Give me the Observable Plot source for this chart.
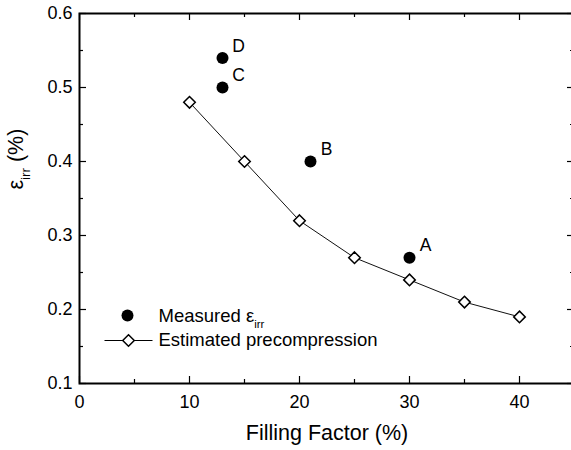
<!DOCTYPE html>
<html>
<head>
<meta charset="utf-8">
<script src="https://cdn.jsdelivr.net/npm/d3@7"></script>
<script src="https://cdn.jsdelivr.net/npm/@observablehq/plot@0.6"></script>
<style>
  html, body { margin: 0; padding: 0; background: white; overflow: hidden; }
  #chart { width: 571px; height: 450px; overflow: hidden; }
</style>
</head>
<body>
<div id="chart"></div>
<script>
// ---- data ----
const measLabel = ["A", "B", "C", "D"];
const measX = [30, 21, 13, 13];
const measY = [0.27, 0.40, 0.50, 0.54];

const estX = [10, 15, 20, 25, 30, 35, 40];
const estY = [0.48, 0.40, 0.32, 0.27, 0.24, 0.21, 0.19];

const xMajor = [0, 10, 20, 30, 40];
const xMinor = [5, 15, 25, 35];
const yMajor = [0.1, 0.2, 0.3, 0.4, 0.5, 0.6];
const yMinor = [0.15, 0.25, 0.35, 0.45, 0.55];

const xTitle = "Filling Factor (%)";
const yTitle = "ε_{irr} (%)";
const legendMeasured = "Measured ε_{irr}";
const legendEstimated = "Estimated precompression";

// ---- build ----
const measured = measLabel.map((l, i) => ({label: l, x: measX[i], y: measY[i]}));
const estimated = estX.map((x, i) => ({x, y: estY[i]}));

const W = 571, H = 450;
const mL = 79, mT = 13, mB = 67, mR = -3;
const fw = W - mL - mR, fh = H - mT - mB;
const tMaj = 7, tMin = 4;
const font = "'Liberation Sans', Arial, sans-serif";

const hline = {draw(ctx) { ctx.moveTo(-24, 0); ctx.lineTo(24, 0); }};

const chart = Plot.plot({
  width: W,
  height: H,
  marginLeft: mL,
  marginTop: mT,
  marginBottom: mB,
  marginRight: mR,
  style: {fontFamily: font, background: "white", color: "black"},
  x: {domain: [0, 45]},
  y: {domain: [0.1, 0.6]},
  marks: [
    // tick labels
    Plot.axisX(xMajor, {tickSize: 0, tickPadding: 12, fontSize: 18, label: null, tickFormat: d3.format("d")}),
    Plot.axisY(yMajor, {tickSize: 0, tickPadding: 7, fontSize: 18, label: null, tickFormat: d3.format(".1f")}),
    // inward ticks
    Plot.ruleX(xMajor, {x: d => d, insetTop: fh - tMaj, stroke: "black", strokeWidth: 1.2}),
    Plot.ruleX(xMinor, {x: d => d, insetTop: fh - tMin, stroke: "black", strokeWidth: 1.2}),
    Plot.ruleX(xMajor, {x: d => d, insetBottom: fh - tMaj, stroke: "black", strokeWidth: 1.2}),
    Plot.ruleX(xMinor, {x: d => d, insetBottom: fh - tMin, stroke: "black", strokeWidth: 1.2}),
    Plot.ruleY(yMajor, {y: d => d, insetRight: fw - tMaj, stroke: "black", strokeWidth: 1.2}),
    Plot.ruleY(yMinor, {y: d => d, insetRight: fw - tMin, stroke: "black", strokeWidth: 1.2}),
    Plot.ruleY(yMajor, {y: d => d, insetLeft: fw - tMaj, stroke: "black", strokeWidth: 1.2}),
    Plot.ruleY(yMinor, {y: d => d, insetLeft: fw - tMin, stroke: "black", strokeWidth: 1.2}),
    Plot.frame({stroke: "black", strokeWidth: 2}),
    // estimated curve
    Plot.line(estimated, {x: "x", y: "y", stroke: "#111", strokeWidth: 1}),
    Plot.dot(estimated, {x: "x", y: "y", symbol: "diamond2", r: 5.2, fill: "white", stroke: "black", strokeWidth: 1.5}),
    // measured
    Plot.dot(measured, {x: "x", y: "y", r: 6, fill: "black", stroke: "none"}),
    Plot.text(measured, {x: "x", y: "y", text: "label", dx: 16, dy: -12, fontSize: 17.5, fill: "black"}),
    // legend
    Plot.dot([0], {frameAnchor: "top-left", dx: 48, dy: 302, r: 6, fill: "black", stroke: "none"}),
    Plot.text([legendMeasured], {frameAnchor: "top-left", dx: 79, dy: 303, textAnchor: "start", lineAnchor: "middle", fontSize: 18.5, fill: "black"}),
    Plot.dot([0], {frameAnchor: "top-left", dx: 49, dy: 327, symbol: hline, r: 5, fill: "none", stroke: "black", strokeWidth: 1}),
    Plot.dot([0], {frameAnchor: "top-left", dx: 49, dy: 327, symbol: "diamond2", r: 5.2, fill: "white", stroke: "black", strokeWidth: 1.5}),
    Plot.text([legendEstimated], {frameAnchor: "top-left", dx: 79, dy: 327, textAnchor: "start", lineAnchor: "middle", fontSize: 18.5, fill: "black"}),
    // axis titles
    Plot.text([xTitle], {frameAnchor: "bottom", dy: 50, lineAnchor: "middle", fontSize: 21.5, fill: "black"}),
    Plot.text([yTitle], {frameAnchor: "left", dx: -63, dy: -9, rotate: -90, lineAnchor: "middle", fontSize: 21.5, fill: "black"})
  ]
});

document.getElementById("chart").appendChild(chart);

// subscripts: "_{...}" -> lowered smaller tspan
d3.select(chart).selectAll("text").each(function () {
  const s = this.textContent;
  if (!s.includes("_{")) return;
  const fs = parseFloat(getComputedStyle(this).fontSize) || 18;
  const t = d3.select(this);
  t.text(null);
  const shift = fs * 0.3;
  let lowered = false;
  s.split(/(_\{[^}]*\})/).forEach(p => {
    if (!p) return;
    if (p.startsWith("_{")) {
      t.append("tspan").attr("font-size", fs * 0.62).attr("dy", shift).text(p.slice(2, -1));
      lowered = true;
    } else {
      const ts = t.append("tspan").text(p);
      if (lowered) { ts.attr("dy", -shift); lowered = false; }
    }
  });
});
</script>
</body>
</html>
